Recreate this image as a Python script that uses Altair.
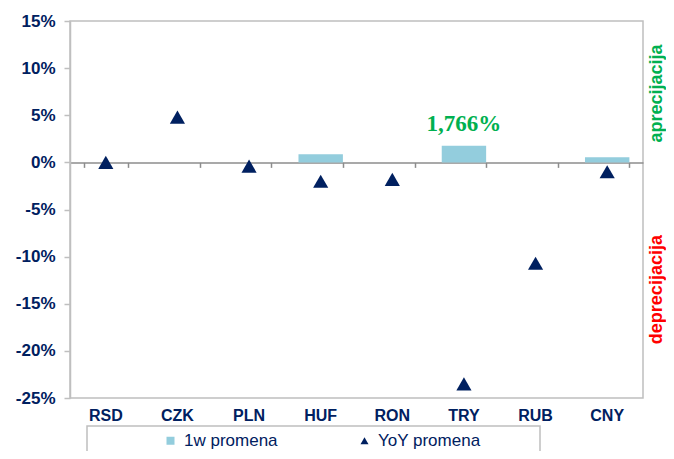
import altair as alt
import pandas as pd

currencies = ["RSD", "CZK", "PLN", "HUF", "RON", "TRY", "RUB", "CNY"]
week_change = [0.0, 0.0, 0.0, 0.85, 0.0, 1.766, 0.0, 0.55]
yoy_change = [0.0, 4.8, -0.4, -2.0, -1.8, -23.5, -10.7, -1.0]
series_names = ["1w promena", "YoY promena"]
y_ticks = [-25, -20, -15, -10, -5, 0, 5, 10, 15]

NAVY = "#002060"
BAR = "#93CDDD"
GRAY = "#BFBFBF"
FONT = "Liberation Sans"

W, H = 573, 377
YMIN, YMAX = -25, 15
zero_offset = H * (0 - YMIN) / (YMAX - YMIN)

rows = []
for c, w, y in zip(currencies, week_change, yoy_change):
    rows.append({"currency": c, "series": series_names[0], "value": w})
    rows.append({"currency": c, "series": series_names[1], "value": y})
df = pd.DataFrame(rows)

imax = max(range(len(week_change)), key=lambda i: week_change[i])
ann = pd.DataFrame({
    "currency": [currencies[imax]],
    "value": [week_change[imax]],
    "label": [f"{week_change[imax]:.3f}".replace(".", ",") + "%"],
})

yscale = alt.Scale(domain=[YMIN, YMAX], nice=False, zero=False)
yaxis = alt.Axis(
    values=y_ticks, labelExpr="datum.value + '%'", title=None, grid=False,
    labelFont=FONT, labelFontWeight="bold", labelFontSize=17, labelColor=NAVY,
    labelPadding=9, domainColor=GRAY, domainWidth=1.5, tickColor=GRAY,
    tickSize=6, tickWidth=1.5,
)
xscale = alt.Scale(domain=currencies, paddingInner=0.38, paddingOuter=0.19)
color_scale = alt.Scale(domain=series_names, range=[BAR, NAVY])
shape_scale = alt.Scale(domain=series_names, range=["square", "triangle-up"])

legend = alt.Legend(
    title=None, orient="none", legendX=92, legendY=411, direction="horizontal",
    labelFont=FONT, labelFontSize=17, labelColor=NAVY, symbolSize=64,
    symbolStrokeWidth=0, columnPadding=78, labelOffset=5, padding=0,
)

bars = alt.Chart(df).transform_filter(
    alt.datum.series == series_names[0]
).mark_bar().encode(
    x=alt.X("currency:N", scale=xscale, sort=currencies, axis=alt.Axis(
        orient="bottom", title=None, labelAngle=0, domain=False, ticks=False,
        labelFont=FONT, labelFontWeight="bold", labelFontSize=16,
        labelColor=NAVY, labelPadding=9)),
    y=alt.Y("value:Q", scale=yscale, axis=yaxis),
    color=alt.Color("series:N", scale=color_scale, legend=legend),
)

points = alt.Chart(df).transform_filter(
    alt.datum.series == series_names[1]
).mark_point(filled=True, opacity=1, size=230).encode(
    x=alt.X("currency:N", scale=xscale, sort=currencies, axis=alt.Axis(
        orient="bottom", offset=-zero_offset, title=None, labels=False,
        domain=True, domainColor="#8C8C8C", domainWidth=1.5, ticks=True,
        tickBand="extent", tickColor="#8C8C8C", tickSize=5, tickWidth=1.5)),
    y=alt.Y("value:Q", scale=yscale, axis=yaxis),
    color=alt.Color("series:N", scale=color_scale, legend=legend),
    shape=alt.Shape("series:N", scale=shape_scale, legend=legend),
)

label = alt.Chart(ann).mark_text(
    font="Liberation Serif", fontWeight="bold", fontSize=23, color="#00B050",
    baseline="alphabetic", dy=-15,
).encode(
    x=alt.X("currency:N", scale=xscale, sort=currencies, axis=None),
    y=alt.Y("value:Q", scale=yscale, axis=yaxis),
    text="label:N",
)

aprec = alt.Chart(pd.DataFrame({"t": ["aprecijacija"]})).mark_text(
    angle=270, font=FONT, fontWeight="bold", fontSize=18, color="#00B050",
    align="center", baseline="middle",
).encode(x=alt.value(587), y=alt.datum(7.3), text="t:N")

deprec = alt.Chart(pd.DataFrame({"t": ["deprecijacija"]})).mark_text(
    angle=270, font=FONT, fontWeight="bold", fontSize=18, color="#FF0000",
    align="center", baseline="middle",
).encode(x=alt.value(587), y=alt.datum(-13.5), text="t:N")

frame = alt.Chart(pd.DataFrame({"a": [0]})).mark_rect(
    filled=False, stroke=GRAY, strokeWidth=1.5,
).encode(x=alt.value(17), x2=alt.value(470), y=alt.value(405), y2=alt.value(480))

chart = alt.layer(bars, points, label, aprec, deprec, frame).resolve_axis(
    x="independent"
).properties(
    width=W, height=H, autosize=alt.AutoSizeParams(type="none"),
    padding={"left": 62, "top": 13, "right": 23, "bottom": 53},
).configure_view(stroke=GRAY, strokeWidth=1.5)

chart.save("out.html", embed_options={"renderer": "svg", "actions": False})
